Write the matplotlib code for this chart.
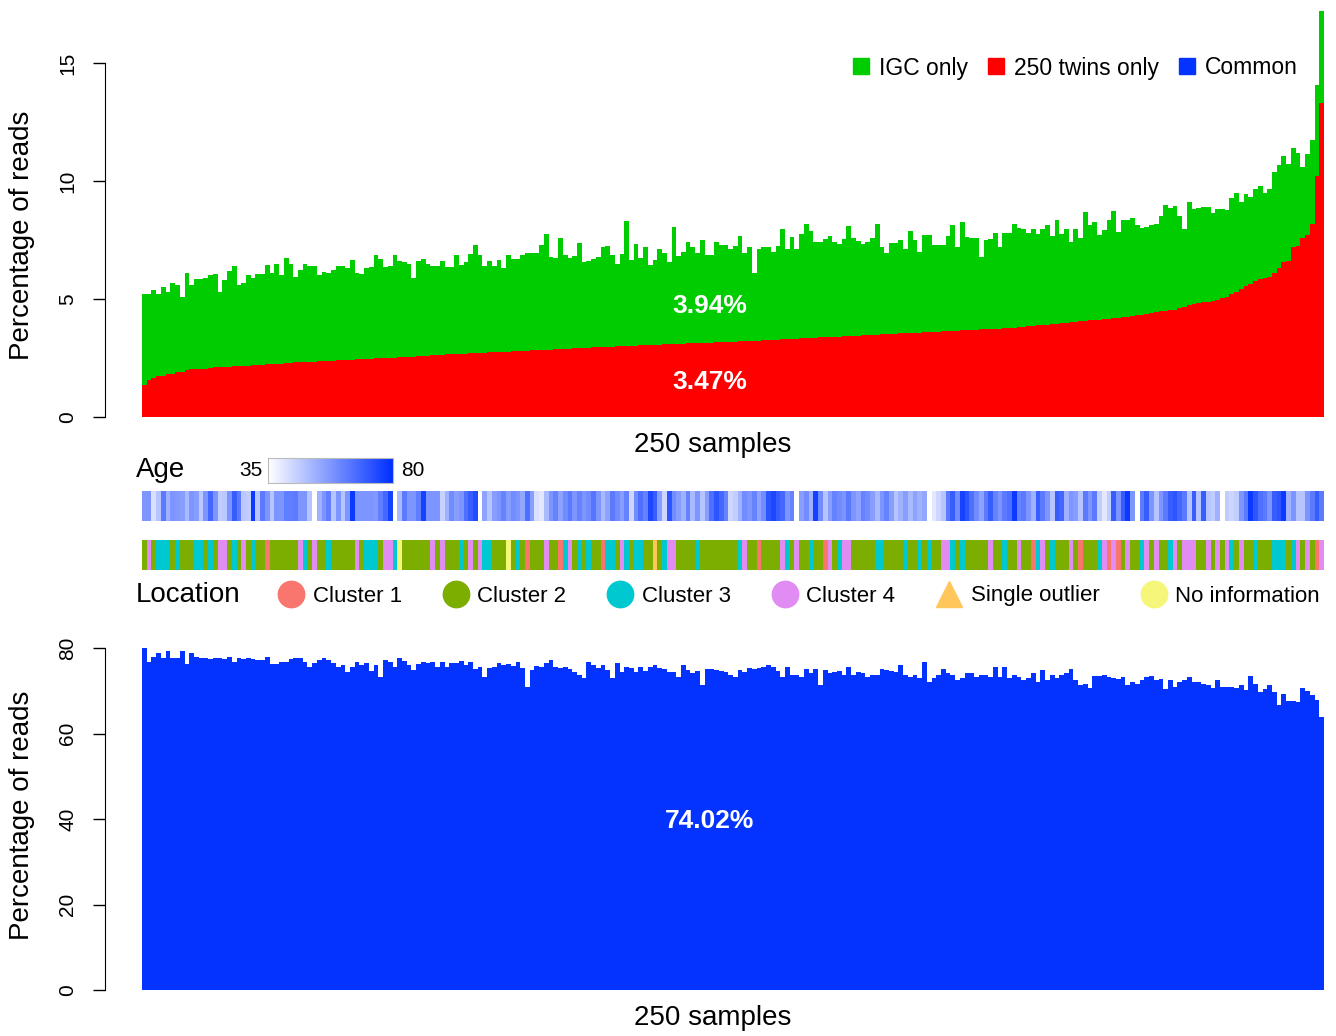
import numpy as np
import matplotlib
matplotlib.use("Agg")
import matplotlib.pyplot as plt
from matplotlib.colors import LinearSegmentedColormap, ListedColormap
from matplotlib.lines import Line2D

plt.rcParams['font.family'] = ['Liberation Sans', 'DejaVu Sans']

# top panel: 250 twins only (red) and stacked total with IGC only (green)
twins_only = [
    1.36, 1.57, 1.66, 1.73, 1.73, 1.82, 1.82, 1.9, 1.9, 2.0,
    2.02, 2.03, 2.04, 2.05, 2.06, 2.1, 2.12, 2.13, 2.14, 2.15,
    2.16, 2.17, 2.18, 2.2, 2.21, 2.22, 2.23, 2.24, 2.25, 2.26,
    2.28, 2.3, 2.31, 2.32, 2.33, 2.34, 2.35, 2.36, 2.37, 2.38,
    2.39, 2.4, 2.41, 2.42, 2.43, 2.44, 2.45, 2.46, 2.47, 2.48,
    2.49, 2.5, 2.51, 2.52, 2.53, 2.54, 2.55, 2.56, 2.57, 2.58,
    2.6,
    2.62, 2.63, 2.64, 2.65, 2.66, 2.67, 2.68, 2.69, 2.7, 2.71,
    2.72, 2.73, 2.74, 2.75, 2.76, 2.77, 2.77, 2.78, 2.79, 2.8,
    2.81, 2.82, 2.83, 2.84, 2.85, 2.86, 2.87, 2.88, 2.89, 2.9,
    2.91, 2.92, 2.93, 2.94, 2.95, 2.96, 2.97, 2.97, 2.98, 2.99,
    3.0, 3.01, 3.02, 3.03, 3.04, 3.05, 3.06, 3.06, 3.07, 3.08,
    3.09, 3.1, 3.11, 3.11, 3.12, 3.13, 3.13, 3.14, 3.15, 3.15,
    3.16, 3.16, 3.17, 3.18,
    3.19, 3.2, 3.21, 3.22, 3.23, 3.24, 3.25, 3.26, 3.27, 3.28,
    3.29, 3.3, 3.31, 3.32, 3.33, 3.34, 3.35, 3.36, 3.37, 3.38,
    3.39, 3.4, 3.41, 3.42, 3.43, 3.44, 3.45, 3.46, 3.47, 3.48,
    3.49, 3.5, 3.51, 3.52, 3.53, 3.54, 3.55, 3.56, 3.57, 3.58,
    3.59, 3.6, 3.61, 3.62, 3.63, 3.64, 3.65, 3.66, 3.67, 3.68,
    3.69, 3.7, 3.71, 3.72, 3.73, 3.74, 3.75, 3.76, 3.77, 3.79,
    3.81, 3.82, 3.84,
    3.86, 3.88, 3.9, 3.92, 3.94, 3.96, 3.97, 3.99, 4.01, 4.03,
    4.05, 4.07, 4.09, 4.11, 4.13, 4.15, 4.17, 4.19, 4.21, 4.23,
    4.25, 4.28, 4.31, 4.34, 4.37, 4.41, 4.45, 4.48, 4.5, 4.52,
    4.55, 4.6, 4.68, 4.75, 4.79, 4.82, 4.86, 4.89, 4.93, 4.98,
    5.05, 5.1, 5.2, 5.3, 5.42, 5.55, 5.65, 5.75, 5.85, 5.9,
    5.95, 6.1, 6.3, 6.55, 6.6, 7.2, 7.25, 7.6, 7.7, 8.2,
    10.2, 13.3,
]

twins_plus_igc = [
    5.2, 5.2, 5.4, 5.2, 5.5, 5.3, 5.7, 5.6, 5.1, 6.1,
    5.6, 5.86, 5.83, 5.9, 6.0, 6.05, 5.3, 5.8, 6.2, 6.4,
    5.6, 5.7, 6.0, 5.9, 6.05, 6.05, 6.45, 6.1, 6.5, 6.0,
    6.75, 6.5, 5.95, 6.25, 6.5, 6.4, 6.4, 6.0, 6.15, 6.1,
    6.25, 6.4, 6.4, 6.3, 6.65, 6.1, 6.05, 6.3, 6.35, 6.85,
    6.7, 6.35, 6.4, 6.85, 6.6, 6.55, 6.5, 5.9, 6.6, 6.7,
    6.5,
    6.4, 6.4, 6.6, 6.35, 6.35, 6.85, 6.45, 6.55, 6.9,
    7.3, 6.85, 6.4, 6.6, 6.4, 6.65, 6.3, 6.85, 6.7, 6.7,
    6.85, 6.93, 6.93, 6.93, 7.3, 7.74, 6.8, 6.75, 7.57, 6.85,
    6.75, 6.84, 7.36, 6.55, 6.6, 6.7, 6.78, 7.2, 7.25, 6.85,
    6.5, 6.9, 8.3, 6.65, 7.33, 6.73, 7.2, 6.45, 6.65, 7.1,
    6.93, 6.55, 8.05, 6.82, 7.0, 7.43, 7.19, 6.93, 7.5, 6.85,
    6.85, 7.4, 7.3, 7.3, 7.13,
    7.25, 7.67, 6.93, 7.2, 6.1, 7.13, 7.2, 7.2, 7.0, 7.25,
    7.95, 7.1, 7.65, 7.1, 7.75, 8.2, 7.9, 7.4, 7.4, 7.53,
    7.67, 7.43, 7.33, 7.53, 8.1, 7.57, 7.47, 7.33, 7.4, 7.6,
    8.2, 7.2, 6.93, 7.36, 7.36, 7.5, 7.1, 7.9, 7.5, 7.0,
    7.7, 7.7, 7.28, 7.28, 7.28, 7.67, 8.13, 7.2, 8.27, 7.64,
    7.57, 7.6, 6.8, 7.5, 7.53, 7.78, 7.2, 7.78, 7.78, 8.2,
    8.0, 7.96, 7.78,
    7.96, 7.76, 7.95, 8.15, 7.67, 8.36, 7.74, 7.95, 7.4, 7.95,
    7.57, 8.7, 8.15, 8.27, 7.7, 7.93, 8.35, 8.74, 7.85, 8.36,
    8.36, 8.42, 8.13, 7.99, 8.05, 8.13, 8.2, 8.5, 9.0, 8.84,
    8.94, 8.52, 7.95, 9.1, 8.8, 8.84, 8.88, 8.9, 8.63, 8.8,
    8.8, 8.77, 9.27, 9.5, 9.1, 9.45, 9.34, 9.65, 9.8, 9.5,
    9.65, 10.4, 10.7, 11.05, 10.72, 11.4, 11.2, 10.6, 11.16, 11.74,
    14.07, 17.2,
]

# bottom panel: common
common = [
    79.9, 76.8, 78.0, 78.75, 77.7, 79.3, 77.6, 77.6, 79.3, 76.2,
    78.9, 78.0, 77.6, 77.7, 77.4, 77.6, 77.7, 77.4, 77.9, 76.65,
    77.7, 77.4, 77.6, 77.4, 77.2, 77.2, 78.0, 76.25, 76.2, 76.8,
    76.8, 77.4, 77.7, 77.6, 76.8, 75.6, 76.4, 77.2, 77.6, 77.2,
    76.4, 75.6, 76.0, 74.5, 75.6, 76.8, 76.0, 76.4, 74.6, 76.0,
    73.1, 77.2, 76.8, 75.6, 77.6, 77.0, 76.0, 74.85, 76.2, 76.8, 76.4,
    76.8, 75.6, 76.65, 75.6, 76.4, 76.4, 77.0, 76.0, 76.65, 75.1,
    75.6, 73.1, 75.4, 75.6, 76.4, 76.0, 76.2, 75.9, 76.8, 75.4,
    70.95, 74.85, 75.9, 75.6, 76.4, 77.2, 75.6, 75.4, 75.6, 75.1,
    74.5, 73.8, 72.9, 76.8, 76.0, 75.4, 76.0, 74.85, 72.9, 76.4,
    74.5, 75.6, 75.4, 74.3, 75.6, 74.6, 75.6, 76.0, 75.4, 75.2,
    74.3, 74.5, 73.1, 76.0, 74.85, 74.1, 74.6, 71.3, 75.2, 75.2,
    74.85, 74.6, 74.5, 73.8,
    73.1, 74.85, 74.5, 75.4, 75.2, 75.4, 75.6, 76.0, 75.6, 74.6,
    73.3, 75.6, 73.8, 73.7, 73.1, 75.1, 74.1, 75.1, 71.3, 74.85,
    74.1, 74.5, 74.6, 73.7, 75.6, 73.7, 74.3, 74.1, 73.1, 73.8,
    73.7, 75.2, 74.85, 74.6, 74.3, 76.0, 73.7, 73.1, 73.7, 72.9,
    76.8, 72.1, 72.9, 73.7, 75.2, 74.1, 73.8, 72.5, 72.9, 74.1,
    74.1, 73.1, 73.7, 73.7, 73.3, 75.6, 73.3, 75.6, 72.9, 73.7,
    73.1, 72.5, 72.9,
    74.1, 72.1, 74.85, 72.5, 73.8, 72.9, 73.7, 74.1, 75.1, 72.5,
    71.3, 71.5, 70.6, 73.5, 73.5, 73.7, 73.3, 72.9, 72.75, 73.1,
    71.3, 72.1, 71.5, 72.5, 73.1, 73.5, 72.5, 72.75, 70.4, 72.5,
    70.95, 72.0, 72.5, 73.3, 72.1, 72.1, 71.5, 71.3, 70.6, 72.5,
    70.95, 70.95, 70.95, 70.7, 71.3, 70.2, 73.5, 71.5, 69.8, 70.4,
    71.3, 69.6, 66.7, 69.2, 67.6, 67.6, 67.4, 70.7, 69.9, 68.9,
    67.8, 63.9,
]

nan = np.nan
ages = [
    58, 58, 42, 48, 64, 52, 58, 57, 56, 50,
    58, 56, 47, 58, 68, 58, 46, 47, 58, 70,
    64, 47, 46, 78, 48, 64, 58, 48, 58, 58,
    63, 63, 64, 58, 58, 48, nan, 52, 58, 63,
    48, 58, 48, 58, 78, 58, 58, 58, 58, 57,
    63, 68, 76, nan, 50, 64, 58, 58, 63, 76,
    58, 58, 58, 45, 52, 60, 56, 58, 66, 70,
    74, nan, 55, 48, 56, 58, 62, 56, 60, 58,
    54, 66, 56, 42, 40, 50, 58, 62, 55, 60,
    64, 58, 62, 58, 60, 65, 58, 50, 55, 64,
    60, 56, 62, 44, 60, 66, 62, 75, 70, 56,
    44, 72, 60, 56, 52, 62, 50, 58, 48, 56,
    66, 72, 68, 62, 44, 46, 52, 60, 58, 62,
    55, 60, 72, 75, 70, 68, 58, 62, nan, 56,
    60, 52, 76, 60, 48, 56, 62, 60, 58, 64,
    58, 55, 62, 60, 56, 50, 58, 62, 56, 48,
    52, 56, 50, 55, 52, 54, nan, 40, 44, 48,
    64, 70, 60, 76, 72, 66, 60, 55, 64, 70,
    62, 58, 64, 66, 78, 62, 64, 58, 52, 70,
    64, 58, 48, 70, 68, 52, 58, 56, 48, 64,
    58, 64, 46, 40, 46, 70, 58, 70, 78, 58,
    nan, 64, 70, 58, 48, 58, 64, 70, 72, 68,
    64, 48, 70, 48, 70, 48, 46, 52, nan, 46,
    44, 46, 58, 64, 78, 72, 66, 64, 58, 70,
    72, 78, 52, 58, 48, 48, 58, 64, 70, 64,
]

# 1-4 = clusters, O = single outlier, N = no information
location_rows = [
    "2423332322", "2332324423", "2423221222", "2224324223", "2222242333",
    "2443N22222", "2424222324", "2433222N23", "2122242213", "4232322133",
    "24323322O2", "3442222322", "2222223422", "1222243242", "2322142344",
    "2222233222", "2322323224", "4323222224", "2232242213", "4232224212",
    "2234141242", "2342422342", "4442242424", "3242232223", "3323424214",
]
location_codes = "1234ON"
location_names = ["Cluster 1", "Cluster 2", "Cluster 3", "Cluster 4",
                  "Single outlier", "No information"]
location_colors = ["#F8766D", "#7CAE00", "#00C8D0", "#E08CF3", "#FFC65C", "#F6F67A"]

GREEN = "#00CD00"
RED = "#FF0000"
BLUE = "#0433FF"

W, H = 1336, 1036


def box(x0, y0, x1, y1):
    return [x0 / W, 1 - y1 / H, (x1 - x0) / W, (y1 - y0) / H]


def r_axis(ax, top, ticks):
    for s in ['top', 'right', 'bottom']:
        ax.spines[s].set_visible(False)
    ax.spines['left'].set_position(('outward', 27))
    ax.spines['left'].set_bounds(0, top)
    ax.set_xticks([])
    ax.set_yticks(ticks)
    ax.tick_params(axis='y', length=8.5, width=1, labelsize=15, pad=11)
    for t in ax.get_yticklabels():
        t.set_rotation(90)
        t.set_va('center')


fig = plt.figure(figsize=(W / 100, H / 100), dpi=100)
n = len(twins_only)
edges = np.arange(n + 1)

# top panel
ax1 = fig.add_axes(box(142, 10, 1324, 417))
ax1.stairs(twins_plus_igc, edges, fill=True, color=GREEN, lw=0)
ax1.stairs(twins_only, edges, fill=True, color=RED, lw=0)
ax1.set_xlim(0, n)
ax1.set_ylim(0, 17.25)
r_axis(ax1, 15, [0, 5, 10, 15])
ax1.text(120, 4.7, "3.94%", color='white', fontsize=19, fontweight='bold', ha='center', va='center')
ax1.text(120, 1.47, "3.47%", color='white', fontsize=19, fontweight='bold', ha='center', va='center')
handles = [Line2D([], [], ls='', marker='s', markersize=12, color=c) for c in (GREEN, RED, BLUE)]
fig.legend(handles, ["IGC only", "250 twins only", "Common"], loc='center right',
           bbox_to_anchor=(1298 / W, 1 - 68 / H), ncol=3, frameon=False, fontsize=16.5,
           handlelength=0.9, handletextpad=0.35, columnspacing=0.75, borderpad=0, borderaxespad=0)
fig.text(22 / W, 1 - 235 / H, "Percentage of reads", rotation=90, fontsize=20, ha='center', va='center')
fig.text(713 / W, 1 - 445 / H, "250 samples", fontsize=20, ha='center', va='center')

# age strip
age_cmap = LinearSegmentedColormap.from_list("age", ["#FFFFFF", "#0030FF"])
age_cmap.set_bad("white")
ax_age = fig.add_axes(box(142, 491, 1324, 521))
ax_age.pcolormesh(edges, [0, 1], np.ma.masked_invalid(np.array(ages, float))[None, :],
                  cmap=age_cmap, vmin=35, vmax=80)
ax_age.set_xlim(0, n)
ax_age.axis('off')

fig.text(136 / W, 1 - 470 / H, "Age", fontsize=20, ha='left', va='center')
ax_cb = fig.add_axes(box(268, 458, 393, 483))
ax_cb.imshow(np.linspace(35, 80, 200)[None, :], aspect='auto', cmap=age_cmap, vmin=35, vmax=80)
ax_cb.set_xticks([])
ax_cb.set_yticks([])
for s in ax_cb.spines.values():
    s.set_color('#BBBBBB')
    s.set_linewidth(0.8)
fig.text(263 / W, 1 - 470 / H, "35", fontsize=15, ha='right', va='center')
fig.text(401 / W, 1 - 470 / H, "80", fontsize=15, ha='left', va='center')

# location strip
locations = [location_codes.index(c) for c in "".join(location_rows)]
ax_loc = fig.add_axes(box(142, 540, 1324, 570))
ax_loc.pcolormesh(edges, [0, 1], np.array(locations)[None, :],
                  cmap=ListedColormap(location_colors), vmin=-0.5, vmax=5.5)
ax_loc.set_xlim(0, n)
ax_loc.axis('off')

fig.text(136 / W, 1 - 595 / H, "Location", fontsize=20, ha='left', va='center')
loc_handles = []
for name, c in zip(location_names, location_colors):
    mk = '^' if name == "Single outlier" else 'o'
    loc_handles.append(Line2D([], [], ls='', marker=mk, markersize=19, color=c))
fig.legend(loc_handles, location_names, loc='center left',
           bbox_to_anchor=(277 / W, 1 - 596 / H), ncol=6, frameon=False, fontsize=16,
           handlelength=1.25, handletextpad=0.35, columnspacing=1.8, borderpad=0, borderaxespad=0)

# bottom panel
ax2 = fig.add_axes(box(142, 648, 1324, 990))
ax2.stairs(common, edges, fill=True, color=BLUE, lw=0)
ax2.set_xlim(0, n)
ax2.set_ylim(0, 80)
r_axis(ax2, 80, [0, 20, 40, 60, 80])
ax2.text(120, 39.5, "74.02%", color='white', fontsize=19, fontweight='bold', ha='center', va='center')
fig.text(22 / W, 1 - 815 / H, "Percentage of reads", rotation=90, fontsize=20, ha='center', va='center')
fig.text(713 / W, 1 - 1018 / H, "250 samples", fontsize=20, ha='center', va='center')

fig.savefig("out.png", dpi=100)
